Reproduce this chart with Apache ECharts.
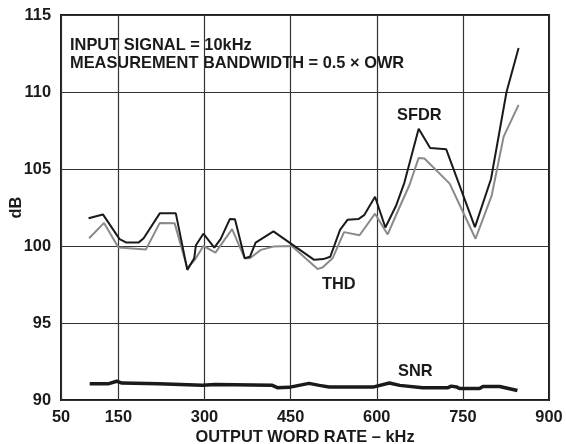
<!DOCTYPE html>
<html>
<head>
<meta charset="utf-8">
<script src="https://cdn.jsdelivr.net/npm/echarts@6/dist/echarts.min.js"></script>
<style>
html,body{margin:0;padding:0;background:#fff;}
#c{width:566px;height:444px;}
</style>
</head>
<body>
<div id="c"></div>
<script>
// X tick labels (kHz)
var xTicks = [50, 150, 300, 450, 600, 750, 900];

// SFDR (black)
var sfdrX = [98, 123, 152, 164, 185, 194, 222, 250, 270, 282, 285, 298, 317, 328, 344, 353, 370, 379, 389, 420, 491, 507, 519, 536, 549, 568, 578, 597, 615, 634, 648, 673, 693, 721, 771, 799, 826, 847];
var sfdrY = [101.8, 102.05, 100.45, 100.22, 100.22, 100.5, 102.12, 102.12, 98.45, 99.2, 100.05, 100.8, 99.9, 100.45, 101.75, 101.73, 99.2, 99.3, 100.22, 100.95, 99.1, 99.15, 99.3, 101.05, 101.7, 101.75, 102.0, 103.2, 101.2, 102.65, 104.1, 107.62, 106.36, 106.28, 101.23, 104.35, 110.0, 112.85];

// THD (grey)
var thdX = [99, 125, 150, 198, 222, 248, 270, 283, 298, 319, 348, 370, 379, 398, 420, 452, 497, 506, 523, 543, 570, 597, 619, 640, 657, 673, 683, 727, 772, 800, 821, 847];
var thdY = [100.5, 101.5, 99.9, 99.78, 101.5, 101.47, 98.55, 99.1, 100.0, 99.57, 101.1, 99.2, 99.2, 99.75, 99.96, 100.0, 98.5, 98.62, 99.2, 100.9, 100.7, 102.1, 100.75, 102.55, 103.96, 105.72, 105.68, 104.05, 100.47, 103.25, 107.1, 109.16];

// SNR (thick black)
var snrX = [100, 132, 147, 156, 220, 296, 319, 418, 427, 447, 482, 500, 517, 595, 622, 640, 680, 724, 730, 739, 744, 779, 785, 814, 845];
var snrY = [91.05, 91.05, 91.22, 91.1, 91.05, 90.95, 91.0, 90.95, 90.8, 90.82, 91.08, 90.95, 90.85, 90.85, 91.1, 90.95, 90.8, 90.8, 90.9, 90.85, 90.75, 90.75, 90.88, 90.88, 90.62];

function pairs(xs, ys) { return xs.map(function (x, i) { return [x, ys[i]]; }); }

var FONT = '"Liberation Sans", Arial, Helvetica, sans-serif';
var TXT = '#1a1a1a';
var FS = 16.4;
var AFONT = 'bold ' + FS + 'px ' + FONT;

var chart = echarts.init(document.getElementById('c'), null, {renderer: 'canvas'});
chart.setOption({
  animation: false,
  backgroundColor: '#ffffff',
  grid: {
    left: 61, right: 17, top: 15, bottom: 44,
    containLabel: false, outerBoundsMode: 'none',
    show: true, borderColor: '#1a1a1a', borderWidth: 2, backgroundColor: 'transparent'
  },
  xAxis: {
    type: 'value', min: 50, max: 900,
    name: 'OUTPUT WORD RATE – kHz', nameLocation: 'middle', nameGap: 29, nameMoveOverlap: false,
    nameTextStyle: {fontFamily: FONT, fontWeight: 'bold', fontSize: FS, color: TXT},
    axisLine: {show: false},
    axisTick: {show: false, customValues: xTicks},
    axisLabel: {customValues: xTicks, fontFamily: FONT, fontWeight: 'bold', fontSize: FS, color: TXT, margin: 9},
    splitLine: {show: true, lineStyle: {color: '#333', width: 1.2}}
  },
  yAxis: {
    type: 'value', min: 90, max: 115, interval: 5,
    name: 'dB', nameLocation: 'middle', nameGap: 37, nameRotate: 90, nameMoveOverlap: false,
    nameTextStyle: {fontFamily: FONT, fontWeight: 'bold', fontSize: FS, color: TXT},
    axisLine: {show: false},
    axisTick: {show: false},
    axisLabel: {fontFamily: FONT, fontWeight: 'bold', fontSize: FS, color: TXT, margin: 10},
    splitLine: {show: true, lineStyle: {color: '#333', width: 1.2}}
  },
  series: [
    {name: 'THD', type: 'line', data: pairs(thdX, thdY), showSymbol: false, z: 3,
     lineStyle: {color: '#8a8a8a', width: 2}},
    {name: 'SFDR', type: 'line', data: pairs(sfdrX, sfdrY), showSymbol: false, z: 4,
     lineStyle: {color: '#1a1a1a', width: 2}},
    {name: 'SNR', type: 'line', data: pairs(snrX, snrY), showSymbol: false, z: 4,
     lineStyle: {color: '#1a1a1a', width: 3.5}}
  ],
  graphic: [
    {type: 'text', x: 70, y: 45, style: {text: 'INPUT SIGNAL = 10kHz', font: AFONT, fill: TXT, verticalAlign: 'middle'}},
    {type: 'text', x: 70, y: 63, style: {text: 'MEASUREMENT BANDWIDTH = 0.5 × OWR', font: AFONT, fill: TXT, verticalAlign: 'middle'}},
    {type: 'text', x: 397, y: 115, style: {text: 'SFDR', font: AFONT, fill: TXT, verticalAlign: 'middle'}},
    {type: 'text', x: 322, y: 284, style: {text: 'THD', font: AFONT, fill: TXT, verticalAlign: 'middle'}},
    {type: 'text', x: 398, y: 371, style: {text: 'SNR', font: AFONT, fill: TXT, verticalAlign: 'middle'}}
  ]
});
</script>
</body>
</html>
